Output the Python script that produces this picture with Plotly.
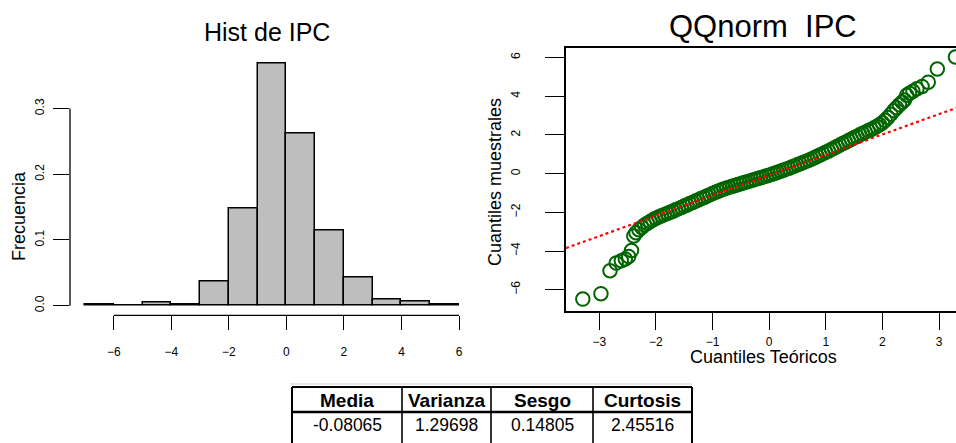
import plotly.graph_objects as go

# ---- Histograma de IPC (densidad por clase de ancho 1) ----
bin_edges = [-7, -6, -5, -4, -3, -2, -1, 0, 1, 2, 3, 4, 5, 6]
densidad = [0.002, 0.0, 0.005, 0.002, 0.037, 0.148, 0.369, 0.262,
            0.114, 0.043, 0.009, 0.006, 0.002]
hist_xticks = [-6, -4, -2, 0, 2, 4, 6]
hist_yticks = [0.0, 0.1, 0.2, 0.3]

# ---- QQ normal de IPC ----
cuantil_teorico = [
    -3.29, -2.97, -2.81, -2.70, -2.61, -2.54, -2.48, -2.43, -2.39,
    -2.35, -2.30, -2.25, -2.20, -2.15, -2.10, -2.05, -2.00, -1.95, -1.90,
    -1.85, -1.80, -1.75, -1.70, -1.65, -1.60, -1.55, -1.50, -1.45, -1.40,
    -1.35, -1.30, -1.25, -1.20, -1.15, -1.10, -1.05, -1.00, -0.95, -0.90,
    -0.85, -0.80, -0.75, -0.70, -0.65, -0.60, -0.55, -0.50, -0.45, -0.40,
    -0.35, -0.30, -0.25, -0.20, -0.15, -0.10, -0.05, 0.00, 0.05, 0.10,
    0.15, 0.20, 0.25, 0.30, 0.35, 0.40, 0.45, 0.50, 0.55, 0.60,
    0.65, 0.70, 0.75, 0.80, 0.85, 0.90, 0.95, 1.00, 1.05, 1.10,
    1.15, 1.20, 1.25, 1.30, 1.35, 1.40, 1.45, 1.50, 1.55, 1.60,
    1.65, 1.70, 1.75, 1.80, 1.85, 1.90, 1.95, 2.00, 2.05, 2.10,
    2.15, 2.20, 2.25, 2.30, 2.35,
    2.39, 2.43, 2.48, 2.54, 2.61, 2.70, 2.81, 2.97, 3.29,
]
cuantil_muestral = [
    -6.48, -6.20, -5.02, -4.62, -4.50, -4.41, -4.28, -3.97, -3.22,
    -3.05, -2.90, -2.78, -2.66, -2.56, -2.47, -2.39, -2.31, -2.24, -2.18,
    -2.12, -2.06, -2.00, -1.94, -1.87, -1.81, -1.75, -1.68, -1.62, -1.55,
    -1.49, -1.42, -1.36, -1.29, -1.23, -1.16, -1.10, -1.03, -0.97, -0.91,
    -0.85, -0.80, -0.75, -0.70, -0.65, -0.61, -0.56, -0.52, -0.47, -0.43,
    -0.39, -0.35, -0.30, -0.26, -0.21, -0.17, -0.12, -0.08, -0.03, 0.02,
    0.07, 0.12, 0.17, 0.23, 0.28, 0.34, 0.39, 0.45, 0.51, 0.57,
    0.63, 0.69, 0.75, 0.82, 0.89, 0.96, 1.03, 1.10, 1.17, 1.25,
    1.32, 1.40, 1.47, 1.55, 1.62, 1.70, 1.77, 1.85, 1.92, 2.00,
    2.07, 2.14, 2.21, 2.28, 2.35, 2.43, 2.52, 2.62, 2.75, 2.90,
    3.07, 3.25, 3.40, 3.55, 3.68,
    3.80, 4.05, 4.15, 4.25, 4.38, 4.50, 4.72, 5.40, 6.02,
]
qq_xticks = [-3, -2, -1, 0, 1, 2, 3]
qq_yticks = [-6, -4, -2, 0, 2, 4, 6]
linea_intercepto = -0.08065
linea_pendiente = 1.05

# ---- Tabla de estadísticos ----
estadisticos = ["Media", "Varianza", "Sesgo", "Curtosis"]
valores = ["-0.08065", "1.29698", "0.14805", "2.45516"]

W, H = 956, 443
FONT = "Liberation Sans, Arial, sans-serif"


def px_x(p):
    return p / W


def px_y(p):
    return (H - p) / H


fig = go.Figure()

centros = [(a + b) / 2 for a, b in zip(bin_edges[:-1], bin_edges[1:])]
fig.add_trace(go.Bar(
    x=centros, y=densidad, width=1,
    marker=dict(color="#BEBEBE", line=dict(color="black", width=1.5)),
    xaxis="x", yaxis="y", showlegend=False,
))

fig.add_trace(go.Scatter(
    x=cuantil_teorico, y=cuantil_muestral, mode="markers",
    marker=dict(symbol="circle-open", size=13.5, color="#006400",
                line=dict(width=2, color="#006400")),
    xaxis="x2", yaxis="y2", showlegend=False, cliponaxis=True,
))

qq_rango_x = [-3.587, 3.30]
fig.add_trace(go.Scatter(
    x=qq_rango_x,
    y=[linea_intercepto + linea_pendiente * v for v in qq_rango_x],
    mode="lines", line=dict(color="red", width=2.2, dash="dot"),
    xaxis="x2", yaxis="y2", showlegend=False,
))

tickfont = dict(family=FONT, size=12, color="black")

# ---- cuadrícula y textos de la tabla ----
col_bordes = [292, 402, 491, 593, 692]
fila_top, fila_sep, fila_fin = 387, 412, 443
tabla_shapes = [
    dict(type="line", xref="paper", yref="paper",
         x0=px_x(290), x1=px_x(col_bordes[-1]), y0=px_y(384), y1=px_y(384),
         line=dict(color="#CFCFCF", width=1.2)),
    dict(type="line", xref="paper", yref="paper",
         x0=px_x(col_bordes[0]), x1=px_x(col_bordes[-1]),
         y0=px_y(fila_top), y1=px_y(fila_top),
         line=dict(color="black", width=2)),
    dict(type="line", xref="paper", yref="paper",
         x0=px_x(col_bordes[0]), x1=px_x(col_bordes[-1]),
         y0=px_y(fila_sep), y1=px_y(fila_sep),
         line=dict(color="black", width=2.5)),
]
for i, b in enumerate(col_bordes):
    tabla_shapes.append(dict(
        type="line", xref="paper", yref="paper",
        x0=px_x(b), x1=px_x(b), y0=px_y(fila_top), y1=px_y(fila_fin),
        line=dict(color="black", width=2 if i in (0, len(col_bordes) - 1) else 1.6)))

tabla_textos = []
for i, (nombre, valor) in enumerate(zip(estadisticos, valores)):
    cx = (col_bordes[i] + col_bordes[i + 1]) / 2
    tabla_textos.append(dict(
        text=f"<b>{nombre}</b>", x=px_x(cx), y=px_y(400), xref="paper",
        yref="paper", showarrow=False, xanchor="center", yanchor="middle",
        font=dict(family=FONT, size=19, color="black")))
    tabla_textos.append(dict(
        text=valor, x=px_x(cx), y=px_y(425), xref="paper",
        yref="paper", showarrow=False, xanchor="center", yanchor="middle",
        font=dict(family=FONT, size=17.5, color="black")))

fig.update_layout(
    width=W, height=H,
    margin=dict(l=0, r=0, t=0, b=0),
    paper_bgcolor="white", plot_bgcolor="white",
    font=dict(family=FONT, color="black"),
    bargap=0,
    xaxis=dict(
        domain=[px_x(70), px_x(474)], range=[-7.52, 6.52],
        tickvals=hist_xticks, ticks="outside", ticklen=14, tickwidth=1.3,
        tickcolor="black", showgrid=False, zeroline=False, showline=False,
        tickfont=tickfont, ticklabelstandoff=11, anchor="y",
    ),
    yaxis=dict(
        domain=[px_y(315.4), px_y(53.5)], range=[-0.01476, 0.3838],
        tickvals=hist_yticks, ticktext=["0.0", "0.1", "0.2", "0.3"],
        ticks="outside", ticklen=16, tickwidth=1.3, tickcolor="black",
        tickangle=-90, showgrid=False, zeroline=False, showline=False,
        tickfont=tickfont, ticklabelstandoff=4, anchor="x",
    ),
    xaxis2=dict(
        domain=[px_x(566), 1.0], range=qq_rango_x,
        tickvals=qq_xticks, ticks="outside", ticklen=18, tickwidth=1.3,
        tickcolor="black", showgrid=False, zeroline=False,
        showline=True, linecolor="black", linewidth=1.5, mirror=True,
        tickfont=tickfont, ticklabelstandoff=1, anchor="y2",
    ),
    yaxis2=dict(
        domain=[px_y(310.7), px_y(47.7)], range=[-7.08, 6.5],
        tickvals=qq_yticks, ticks="outside", ticklen=19, tickwidth=1.3,
        tickcolor="black", tickangle=-90, showgrid=False, zeroline=False,
        showline=True, linecolor="black", linewidth=1.5, mirror=False,
        tickfont=tickfont, ticklabelstandoff=20, anchor="x2",
    ),
    shapes=[
        # ejes del histograma (solo entre la primera y la última marca)
        dict(type="line", xref="x", yref="y domain",
             x0=hist_xticks[0], x1=hist_xticks[-1], y0=0, y1=0,
             line=dict(color="black", width=1.3)),
        dict(type="line", xref="x domain", yref="y",
             x0=0, x1=0, y0=hist_yticks[0], y1=hist_yticks[-1],
             line=dict(color="black", width=1.3)),
    ] + tabla_shapes,
    annotations=[
        dict(text="Hist de IPC", x=px_x(267), y=px_y(32), xref="paper",
             yref="paper", showarrow=False, xanchor="center",
             yanchor="middle", font=dict(family=FONT, size=25)),
        dict(text="QQnorm  IPC", x=px_x(763), y=px_y(27), xref="paper",
             yref="paper", showarrow=False, xanchor="center",
             yanchor="middle", font=dict(family=FONT, size=31)),
        dict(text="Frecuencia", x=px_x(19), y=px_y(216), xref="paper",
             yref="paper", showarrow=False, textangle=-90,
             xanchor="center", yanchor="middle",
             font=dict(family=FONT, size=18)),
        dict(text="Cuantiles muestrales", x=px_x(495), y=px_y(182),
             xref="paper", yref="paper", showarrow=False, textangle=-90,
             xanchor="center", yanchor="middle",
             font=dict(family=FONT, size=18)),
        dict(text="Cuantiles Teóricos", x=px_x(763), y=px_y(357),
             xref="paper", yref="paper", showarrow=False,
             xanchor="center", yanchor="middle",
             font=dict(family=FONT, size=18)),
    ] + tabla_textos,
)

fig.write_html("out.html")
